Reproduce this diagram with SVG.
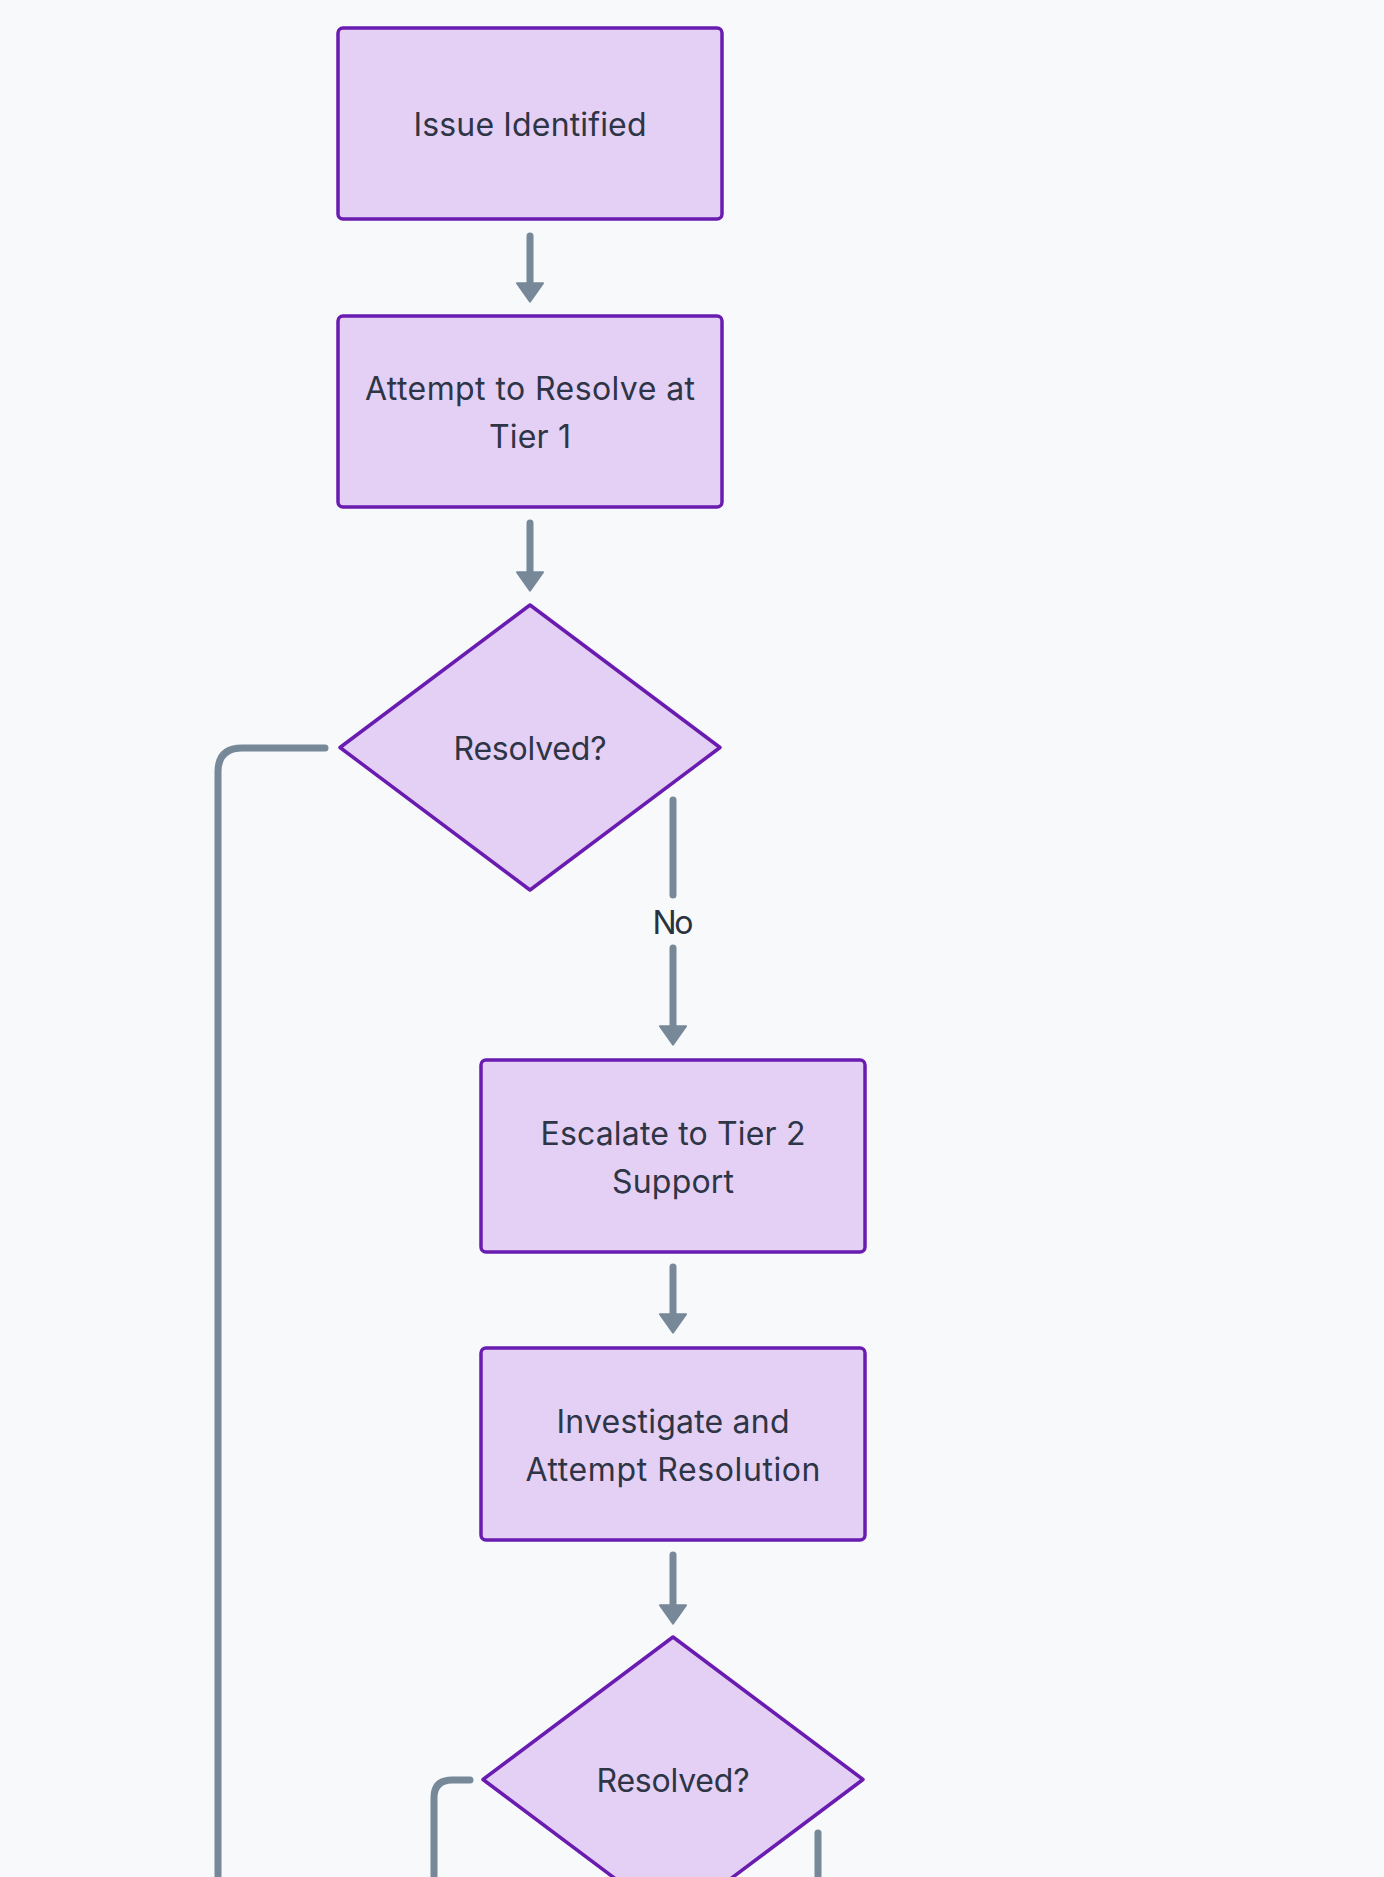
<svg xmlns="http://www.w3.org/2000/svg" width="1384" height="1877" viewBox="0 0 1384 1877">
  <style>
    .box { fill: #e4d0f4; stroke: #6a1bb0; stroke-width: 3.5; }
    .dia { fill: #e4d0f4; stroke: #6a1bb0; stroke-width: 3.5; stroke-linejoin: round; }
    .lbl { font-family: "Inter", "Lato", "Liberation Sans", sans-serif; font-size: 32px; fill: #2d3546; text-anchor: middle; font-variant-ligatures: none; }
    .edge { fill: none; stroke: #778899; stroke-width: 7; stroke-linecap: round; stroke-linejoin: round; }
    .elbl { font-family: "Inter", "Lato", "Liberation Sans", sans-serif; font-size: 32px; fill: #2a3140; text-anchor: middle; }
  </style>
  <defs>
    <marker id="arrow" markerUnits="userSpaceOnUse" markerWidth="30" markerHeight="30" viewBox="-2 -2 24 31" refX="7" refY="13.5" orient="auto">
      <path d="M0,0 L19,13.5 L0,27 Z" fill="#778899" stroke="#778899" stroke-width="2" stroke-linejoin="round"/>
    </marker>
  </defs>
  <rect x="0" y="0" width="1384" height="1877" fill="#f7f9fb"/>

  <g id="connectors">
    <path class="edge" d="M530,236 L530,290" marker-end="url(#arrow)"/>
    <path class="edge" d="M530,523 L530,579" marker-end="url(#arrow)"/>
    <path class="edge" d="M325,748 L242,748 Q218,748 218,772 L218,1895"/>
    <path class="edge" d="M673,800 L673,895"/>
    <path class="edge" d="M673,948 L673,1033" marker-end="url(#arrow)"/>
    <text class="elbl" x="673" y="934" textLength="41" lengthAdjust="spacing">No</text>
    <path class="edge" d="M673,1267 L673,1321" marker-end="url(#arrow)"/>
    <path class="edge" d="M673,1555 L673,1612" marker-end="url(#arrow)"/>
    <path class="edge" d="M470,1780 L452,1780 Q434,1780 434,1798 L434,1895"/>
    <path class="edge" d="M818,1833 L818,1895"/>
  </g>

  <g id="issue-identified">
    <rect class="box" x="338" y="28" width="384" height="191" rx="5"/>
    <text class="lbl" x="530" y="136" textLength="233">Issue Identified</text>
  </g>

  <g id="attempt-tier1">
    <rect class="box" x="338" y="316" width="384" height="191" rx="5"/>
    <text class="lbl" x="530" y="400" textLength="330">Attempt to Resolve at</text>
    <text class="lbl" x="530" y="448" textLength="82">Tier 1</text>
  </g>

  <g id="resolved-1">
    <polygon class="dia" points="530,605 720,747.5 530,890 340,747.5"/>
    <text class="lbl" x="530" y="760" textLength="153">Resolved?</text>
  </g>

  <g id="escalate-tier2">
    <rect class="box" x="481" y="1060" width="384" height="192" rx="5"/>
    <text class="lbl" x="673" y="1145" textLength="265">Escalate to Tier 2</text>
    <text class="lbl" x="673" y="1193" textLength="122">Support</text>
  </g>

  <g id="investigate">
    <rect class="box" x="481" y="1348" width="384" height="192" rx="5"/>
    <text class="lbl" x="673" y="1433" textLength="233">Investigate and</text>
    <text class="lbl" x="673" y="1481" textLength="295">Attempt Resolution</text>
  </g>

  <g id="resolved-2">
    <polygon class="dia" points="673,1637 863,1779.5 673,1922 483,1779.5"/>
    <text class="lbl" x="673" y="1792" textLength="153">Resolved?</text>
  </g>
</svg>
